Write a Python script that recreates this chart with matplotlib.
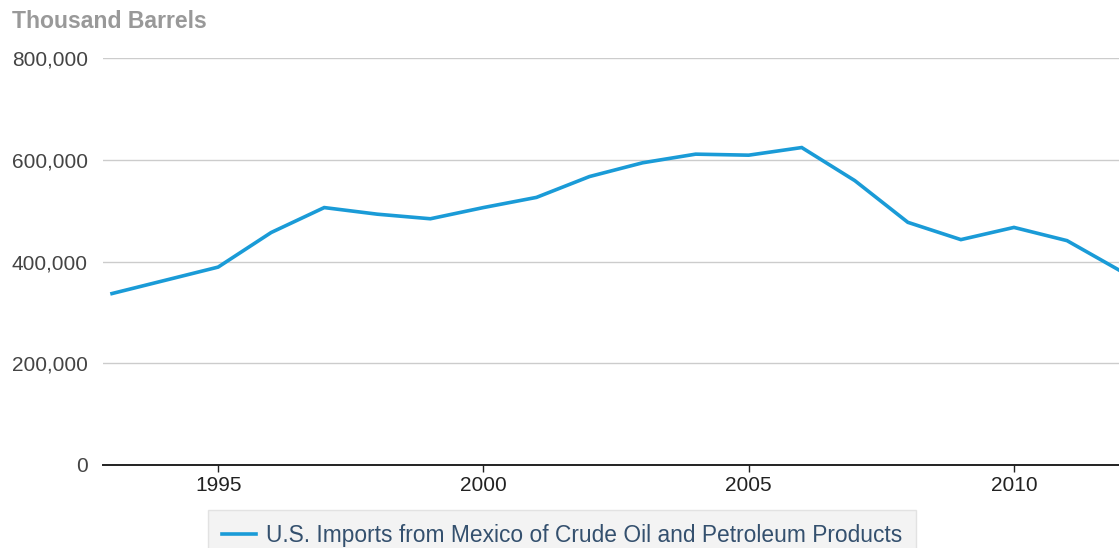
import numpy as np
import matplotlib
matplotlib.use("Agg")
import matplotlib.pyplot as plt
from matplotlib.ticker import FuncFormatter

plt.rcParams['font.family'] = ['Liberation Sans', 'DejaVu Sans']

# data (thousand barrels)
years = [1993, 1994, 1995, 1996, 1997, 1998, 1999, 2000, 2001, 2002,
         2003, 2004, 2005, 2006, 2007, 2008, 2009, 2010, 2011, 2012]
imports = [337000, 363000, 389000, 457000, 506000, 493000, 484000, 506000, 526000, 567000,
           594000, 611000, 609000, 624000, 559000, 477000, 443000, 467000, 441000, 382000]
series_name = 'U.S. Imports from Mexico of Crude Oil and Petroleum Products'
y_ticks = [0, 200000, 400000, 600000, 800000]
x_ticks = [1995, 2000, 2005, 2010]

W, H = 1119, 548
fig = plt.figure(figsize=(W / 100, H / 100), dpi=100)
ax = fig.add_axes([103 / W, (H - 465) / H, 1 - 103 / W, (465 - 58) / H])

line, = ax.plot(years, imports, color='#1a9bd7', linewidth=2.6, label=series_name,
                solid_joinstyle='miter', clip_on=True)

ax.set_xlim(1992.83, 2011.98)
ax.set_ylim(0, 800000)
ax.set_yticks(y_ticks)
ax.set_xticks(x_ticks)
ax.yaxis.set_major_formatter(FuncFormatter(lambda v, p: '{:,.0f}'.format(v)))

ax.grid(axis='y', color='#cccccc', linewidth=1.0)
ax.set_axisbelow(True)
for s in ['left', 'right', 'top']:
    ax.spines[s].set_visible(False)
ax.spines['bottom'].set_color('#222222')
ax.spines['bottom'].set_linewidth(1.4)
ax.spines['bottom'].set_zorder(3)

ax.tick_params(axis='y', length=0, pad=11, labelsize=15, labelcolor='#444444')
ax.tick_params(axis='x', length=5, width=1, color='#222222', pad=3,
               labelsize=15, labelcolor='#222222')

fig.text(12 / W, 1 - 28 / H, 'Thousand Barrels', fontsize=16.6, fontweight='bold',
         color='#999999', va='baseline', ha='left')

leg = fig.legend(handles=[line], loc='upper left',
                 bbox_to_anchor=(208 / W, (H - 510) / H), borderaxespad=0,
                 fontsize=16.4, frameon=True, fancybox=False, handlelength=1.5,
                 handletextpad=0.45, borderpad=0.6)
leg.get_frame().set_facecolor('#f0f0f0')
leg.get_frame().set_edgecolor('#dddddd')
leg.get_frame().set_linewidth(1.0)
for t in leg.get_texts():
    t.set_color('#34506e')

plt.savefig('out.png', dpi=100)
